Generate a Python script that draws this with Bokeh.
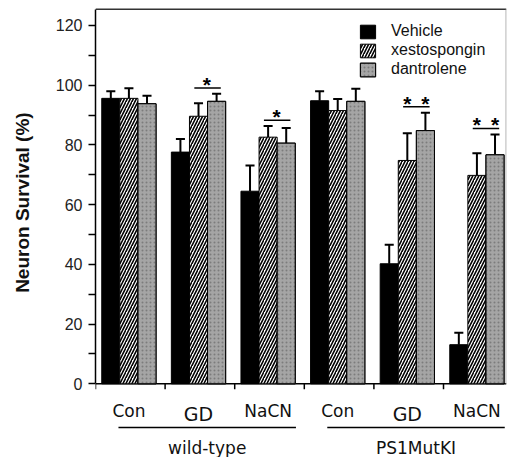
from bokeh.plotting import figure
from bokeh.models import Range1d, FixedTicker, Legend, LegendItem, ColumnDataSource
from bokeh.core.properties import value
from bokeh.embed import file_html
from bokeh.resources import INLINE

# ---------------- data ----------------
categories = ["Con", "GD", "NaCN", "Con", "GD", "NaCN"]
genotypes = ["wild-type", "PS1MutKI"]
genotype_groups = [[0, 1, 2], [3, 4, 5]]
treatments = ["Vehicle", "xestospongin", "dantrolene"]

vehicle = [95.6, 77.6, 64.5, 94.8, 40.2, 13.1]
vehicle_err = [2.4, 4.4, 8.6, 3.2, 6.4, 4.0]
xestospongin = [95.6, 89.6, 82.6, 91.5, 74.8, 69.8]
xestospongin_err = [3.4, 4.4, 3.7, 3.9, 9.1, 7.4]
dantrolene = [93.8, 94.6, 80.6, 94.6, 84.8, 76.7]
dantrolene_err = [2.7, 2.5, 5.1, 4.2, 6.0, 6.8]

sig_groups = [1, 2, 4, 5]
sig_stars = [1, 1, 2, 2]

y_ticks = [0, 10, 20, 30, 40, 50, 60, 70, 80, 90, 100, 110, 120]
y_tick_labels = ["0", "", "20", "", "40", "", "60", "", "80", "", "100", "", "120"]
y_title = "Neuron  Survival  (%)"

# ---------------- layout ----------------
BAR_W = 0.26
GROUP_OFF = 0.48
X_END = 5.905
Y_TOP = 128.37
Y_BOT = -24.68
FRAME_TOP = 125.4
CAP = 0.065
TITLE_PAD = "\u00a0" * 12   # lifts the centred axis title towards the plotted range

centers = [i + GROUP_OFF for i in range(len(categories))]

p = figure(width=509, height=457, output_backend="svg", toolbar_location=None,
           x_range=Range1d(0, X_END), y_range=Range1d(Y_BOT, Y_TOP),
           x_axis_type=None, min_border_left=95, min_border_right=3,
           min_border_top=0, min_border_bottom=0)
p.outline_line_color = None
p.grid.visible = False
p.background_fill_color = "white"

# y axis
ax = p.yaxis[0]
ax.ticker = FixedTicker(ticks=y_ticks, minor_ticks=[])
ax.major_label_overrides = {t: l for t, l in zip(y_ticks, y_tick_labels)}
ax.bounds = (0, FRAME_TOP)
ax.major_tick_out = 7
ax.major_tick_in = 0
ax.major_tick_line_width = 1.5
ax.axis_line_width = 1.5
ax.major_label_text_font = "Liberation Sans"
ax.major_label_text_font_size = "16px"
ax.major_label_text_color = "#222222"
ax.major_label_standoff = 6
ax.axis_label = TITLE_PAD + y_title
ax.axis_label_text_font = "Liberation Sans"
ax.axis_label_text_font_style = "bold"
ax.axis_label_text_font_size = "19px"
ax.axis_label_text_color = "#111111"
ax.axis_label_standoff = 20

# frame lines (x axis, top border, right border)
p.segment(x0=[0], y0=[0], x1=[X_END], y1=[0], line_color="black", line_width=1.5)
p.segment(x0=[0], y0=[FRAME_TOP], x1=[X_END], y1=[FRAME_TOP], line_color="#333333", line_width=1.5)
p.segment(x0=[X_END - 0.006], y0=[0], x1=[X_END - 0.006], y1=[FRAME_TOP], line_color="#999999", line_width=1)
bx = list(range(len(categories)))
p.segment(x0=bx, y0=[0] * len(bx), x1=bx, y1=[-1.8] * len(bx), line_color="black", line_width=1.5)

# bars
series = [(vehicle, vehicle_err), (xestospongin, xestospongin_err), (dantrolene, dantrolene_err)]
layers = [
    [dict(fill_color="black")],
    [dict(fill_color="white", hatch_pattern="/", hatch_color="black", hatch_scale=6, hatch_weight=1.6)],
    [dict(fill_color="white", hatch_pattern=".", hatch_color="#444444", hatch_scale=4, hatch_weight=1),
     dict(fill_color="#8c8c8c", fill_alpha=0.78)],
]
legend_items = []
for k, ((vals, errs), lays) in enumerate(zip(series, layers)):
    xs = [c + (k - 1) * BAR_W for c in centers]
    src = ColumnDataSource(dict(x=xs, top=vals,
                                err_top=[v + e for v, e in zip(vals, errs)],
                                cap0=[x - CAP for x in xs], cap1=[x + CAP for x in xs]))
    p.segment(x0="x", y0="top", x1="x", y1="err_top", source=src, line_color="black", line_width=2)
    p.segment(x0="cap0", y0="err_top", x1="cap1", y1="err_top",
              source=src, line_color="black", line_width=2)
    rs = []
    for st in lays:
        rs.append(p.vbar(x="x", top="top", bottom=0, width=BAR_W, source=src,
                         line_color="black", line_width=1, **st))
    legend_items.append(LegendItem(label=treatments[k], renderers=rs))

# significance markers
tops = [[v + e for v, e in zip(vals, errs)] for vals, errs in series]
lx0, lx1, ly, sx, sy = [], [], [], [], []
for g, n in zip(sig_groups, sig_stars):
    level = max(tops[1][g], tops[2][g]) + 2.0
    c = centers[g]
    lx0.append(c - 0.06)
    lx1.append(c + 0.32)
    ly.append(level)
    if n == 1:
        sx.append(c + 0.12); sy.append(level + 1.2)
    else:
        sx.extend([c, c + BAR_W]); sy.extend([level + 1.2, level + 1.2])
p.segment(x0=lx0, y0=ly, x1=lx1, y1=ly, line_color="black", line_width=1.5)
p.text(x=sx, y=sy, text=["*"] * len(sx), text_align="center", text_baseline="middle",
       text_font=value("Liberation Sans"), text_font_style="bold", text_font_size="21px",
       text_color="black")

# category labels
cat_src = ColumnDataSource(dict(x=centers, y=[-9.95 if c == "GD" else -8.94 for c in categories],
                                text=categories,
                                size=["19px" if c == "GD" else "17px" for c in categories]))
p.text(x="x", y="y", text="text", text_font_size="size", source=cat_src, text_align="center",
       text_baseline="middle", text_font=value("DejaVu Sans"), text_color="#111111")

# genotype labels with underlines
gx0, gx1, gxm = [], [], []
for grp in genotype_groups:
    a = centers[grp[0]] - 0.15
    b = centers[grp[-1]] + 0.4
    gx0.append(a); gx1.append(b); gxm.append((a + b) / 2)
p.segment(x0=gx0, y0=[-14.6] * 2, x1=gx1, y1=[-14.6] * 2, line_color="black", line_width=1.5)
p.text(x=gxm, y=[-21.4] * 2, text=genotypes, text_align="center", text_baseline="alphabetic",
       text_font=value("DejaVu Sans"), text_font_size="17px", text_color="#111111")

# legend
legend = Legend(items=legend_items,
                location=(263, 379), orientation="vertical", padding=0, margin=0, spacing=1,
                glyph_width=19, glyph_height=17, label_height=17, label_standoff=14,
                border_line_color=None, background_fill_alpha=0,
                label_text_font="Liberation Sans", label_text_font_size="16px",
                label_text_color="#111111")
p.add_layout(legend)

open("out.html", "w").write(file_html(p, INLINE))
